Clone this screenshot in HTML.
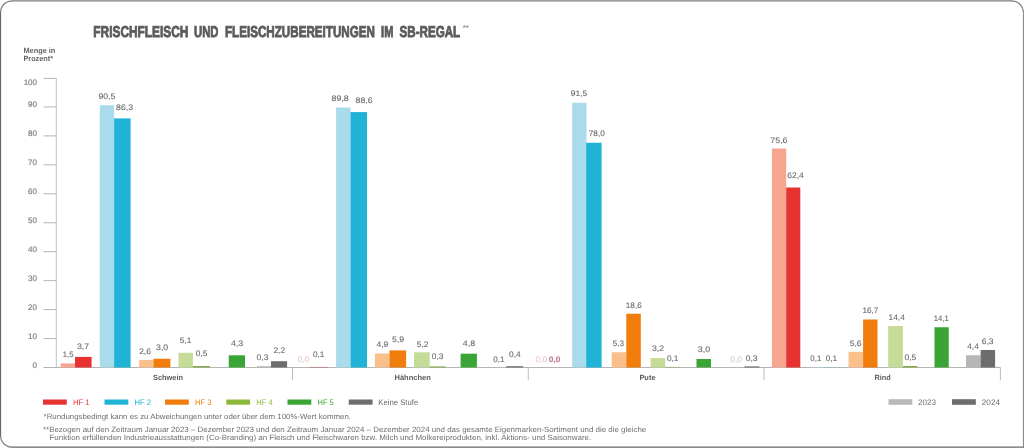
<!DOCTYPE html>
<html lang="de">
<head>
<meta charset="utf-8">
<title>Frischfleisch und Fleischzubereitungen im SB-Regal</title>
<style>
html,body{margin:0;padding:0;background:#fff;}
body{width:1024px;height:448px;overflow:hidden;}
svg{display:block;font-family:"Liberation Sans",sans-serif;text-rendering:geometricPrecision;}
.v{font-size:8px;stroke-width:0.1px;}
.ax{font-size:8px;fill:#7a7a7a;stroke:#7a7a7a;stroke-width:0.15px;}
.cat{font-size:7.6px;font-weight:bold;fill:#5c5c5c;}
.fn{font-size:7.6px;fill:#6e6e6e;}
.lg{font-size:8px;}
</style>
</head>
<body>
<svg width="1024" height="448" viewBox="0 0 1024 448">
<rect x="0" y="0" width="1024" height="448" fill="#ffffff"/>
<g fill="none" stroke="#808080" stroke-width="1.3"><path d="M0.5,12.6 A11.8,11.8 0 0 1 12.3,0.8"/><path d="M1011.6,0.8 A11.8,11.8 0 0 1 1023.4,12.6"/><path d="M12.3,447.2 A11.8,11.8 0 0 1 0.5,435.4"/></g>
<rect x="12" y="0" width="1000" height="1.65" fill="#9c9c9c"/>
<rect x="12" y="446.35" width="1012" height="1.65" fill="#8c8c8c"/>
<rect x="0" y="12.3" width="1.12" height="423.4" fill="#666666"/>
<rect x="1022.92" y="12.3" width="1.08" height="435.7" fill="#8a8888"/>
<text y="36.9" font-size="15.7" font-weight="bold" fill="#5b5b5d" stroke="#5b5b5d" stroke-width="0.85" stroke-linejoin="miter"><tspan x="93.35" textLength="94.95" lengthAdjust="spacingAndGlyphs">FRISCHFLEISCH</tspan> <tspan x="194.10" textLength="24.40" lengthAdjust="spacingAndGlyphs">UND</tspan> <tspan x="225.00" textLength="149.90" lengthAdjust="spacingAndGlyphs">FLEISCHZUBEREITUNGEN</tspan> <tspan x="381.10" textLength="12.30" lengthAdjust="spacingAndGlyphs">IM</tspan> <tspan x="399.50" textLength="60.70" lengthAdjust="spacingAndGlyphs">SB-REGAL</tspan></text>
<text x="462.7" y="30.4" font-size="7" font-weight="bold" fill="#8c8c8c" textLength="6.2" lengthAdjust="spacingAndGlyphs">**</text>
<text x="23.5" y="52.9" font-size="7.6" font-weight="bold" fill="#636363" textLength="31.8" lengthAdjust="spacingAndGlyphs">Menge in</text>
<text x="23.5" y="60.8" font-size="7.6" font-weight="bold" fill="#636363" textLength="29.5" lengthAdjust="spacingAndGlyphs">Prozent*</text>
<g stroke="#b4b4b4" stroke-width="1" fill="none">
<path d="M56.3,78.4 V367.5" stroke="#c0c0c0"/>
<path d="M43.5,338.55 H56.3"/>
<path d="M43.5,309.60 H56.3"/>
<path d="M43.5,280.65 H56.3"/>
<path d="M43.5,251.70 H56.3"/>
<path d="M43.5,222.75 H56.3"/>
<path d="M43.5,193.80 H56.3"/>
<path d="M43.5,164.85 H56.3"/>
<path d="M43.5,135.90 H56.3"/>
<path d="M43.5,106.95 H56.3"/>
<path d="M43.5,78.40 H56.3"/>
<path d="M43.5,367.5 H1000.4"/>
<path d="M292.5,367.5 V380.2" stroke="#a6a6a6" stroke-width="0.75"/>
<path d="M528.25,367.5 V380.2" stroke="#a6a6a6" stroke-width="0.75"/>
<path d="M764.0,367.5 V380.2" stroke="#a6a6a6" stroke-width="0.75"/>
<path d="M1000.4,367.5 V380.2" stroke="#a6a6a6" stroke-width="0.75"/>
</g>
<text class="ax" x="37" y="367.75" text-anchor="end">0</text>
<text class="ax" x="37" y="338.80" text-anchor="end">10</text>
<text class="ax" x="37" y="309.85" text-anchor="end">20</text>
<text class="ax" x="37" y="280.90" text-anchor="end">30</text>
<text class="ax" x="37" y="251.95" text-anchor="end">40</text>
<text class="ax" x="37" y="223.00" text-anchor="end">50</text>
<text class="ax" x="37" y="194.05" text-anchor="end">60</text>
<text class="ax" x="37" y="165.10" text-anchor="end">70</text>
<text class="ax" x="37" y="136.15" text-anchor="end">80</text>
<text class="ax" x="37" y="107.20" text-anchor="end">90</text>
<text class="ax" x="37" y="84.80" text-anchor="end">100</text>
<rect x="60.60" y="363.40" width="14.40" height="4.10" fill="#f5a590"/>
<rect x="75.00" y="356.90" width="16.60" height="10.60" fill="#e63331"/>
<rect x="99.75" y="105.25" width="14.35" height="262.25" fill="#a9dbec"/>
<rect x="114.10" y="118.40" width="16.50" height="249.10" fill="#1fb4d5"/>
<rect x="139.10" y="360.00" width="14.40" height="7.50" fill="#f9c08b"/>
<rect x="153.50" y="358.75" width="16.90" height="8.75" fill="#f07d0c"/>
<rect x="178.50" y="352.75" width="14.40" height="14.75" fill="#c4dc98"/>
<rect x="192.90" y="366.00" width="16.85" height="1.50" fill="#86a94c"/>
<rect x="228.75" y="355.30" width="16.25" height="12.20" fill="#3aa536"/>
<rect x="256.90" y="366.20" width="14.10" height="1.30" fill="#b7b7b7"/>
<rect x="271.00" y="361.20" width="16.10" height="6.30" fill="#6d6d6d"/>
<rect x="309.90" y="366.95" width="18.10" height="0.55" fill="#b56f6b"/>
<rect x="336.10" y="107.50" width="14.40" height="260.00" fill="#a9dbec"/>
<rect x="350.50" y="112.10" width="16.50" height="255.40" fill="#1fb4d5"/>
<rect x="374.90" y="353.50" width="14.60" height="14.00" fill="#f9c08b"/>
<rect x="389.50" y="350.40" width="16.60" height="17.10" fill="#f07d0c"/>
<rect x="414.00" y="352.30" width="15.75" height="15.20" fill="#c4dc98"/>
<rect x="429.75" y="366.40" width="15.85" height="1.10" fill="#86a94c"/>
<rect x="460.60" y="353.70" width="16.30" height="13.80" fill="#3aa536"/>
<rect x="491.00" y="367.00" width="15.25" height="0.50" fill="#b9b9b9"/>
<rect x="506.25" y="366.20" width="16.85" height="1.30" fill="#6d6d6d"/>
<rect x="572.20" y="102.75" width="14.30" height="264.75" fill="#a9dbec"/>
<rect x="586.20" y="142.75" width="15.40" height="224.75" fill="#1fb4d5"/>
<rect x="611.75" y="352.25" width="14.55" height="15.25" fill="#f9c08b"/>
<rect x="626.30" y="313.75" width="14.50" height="53.75" fill="#f07d0c"/>
<rect x="650.60" y="358.10" width="14.65" height="9.40" fill="#c4dc98"/>
<rect x="665.25" y="366.90" width="14.75" height="0.60" fill="#9aae78"/>
<rect x="696.50" y="359.00" width="14.50" height="8.50" fill="#3aa536"/>
<rect x="744.40" y="366.40" width="15.00" height="1.10" fill="#6d6d6d"/>
<rect x="771.90" y="148.50" width="14.30" height="219.00" fill="#f5a590"/>
<rect x="786.20" y="187.50" width="14.10" height="180.00" fill="#e63331"/>
<rect x="809.00" y="367.00" width="15.00" height="0.50" fill="#b4cdd6"/>
<rect x="824.00" y="367.00" width="14.75" height="0.50" fill="#8cc3d2"/>
<rect x="848.50" y="351.80" width="14.60" height="15.70" fill="#f9c08b"/>
<rect x="863.10" y="319.50" width="14.40" height="48.00" fill="#f07d0c"/>
<rect x="888.20" y="326.00" width="14.70" height="41.50" fill="#c4dc98"/>
<rect x="902.90" y="366.00" width="14.35" height="1.50" fill="#86a94c"/>
<rect x="934.50" y="327.25" width="14.25" height="40.25" fill="#3aa536"/>
<rect x="966.00" y="355.25" width="14.60" height="12.25" fill="#b7b7b7"/>
<rect x="980.60" y="350.00" width="14.50" height="17.50" fill="#6d6d6d"/>
<text class="v" x="62.80" y="357.30" fill="#6a6a6a" stroke="#6a6a6a" textLength="10.60" lengthAdjust="spacingAndGlyphs">1,5</text>
<text class="v" x="76.95" y="349.20" fill="#6a6a6a" stroke="#6a6a6a" textLength="12.10" lengthAdjust="spacingAndGlyphs">3,7</text>
<text class="v" x="98.45" y="99.30" fill="#6a6a6a" stroke="#6a6a6a" textLength="16.85" lengthAdjust="spacingAndGlyphs">90,5</text>
<text class="v" x="116.10" y="109.90" fill="#6a6a6a" stroke="#6a6a6a" textLength="17.00" lengthAdjust="spacingAndGlyphs">86,3</text>
<text class="v" x="139.20" y="353.60" fill="#6a6a6a" stroke="#6a6a6a" textLength="11.70" lengthAdjust="spacingAndGlyphs">2,6</text>
<text class="v" x="156.10" y="350.20" fill="#6a6a6a" stroke="#6a6a6a" textLength="12.10" lengthAdjust="spacingAndGlyphs">3,0</text>
<text class="v" x="179.70" y="342.50" fill="#6a6a6a" stroke="#6a6a6a" textLength="11.60" lengthAdjust="spacingAndGlyphs">5,1</text>
<text class="v" x="195.70" y="356.00" fill="#6a6a6a" stroke="#6a6a6a" textLength="11.60" lengthAdjust="spacingAndGlyphs">0,5</text>
<text class="v" x="230.95" y="346.00" fill="#6a6a6a" stroke="#6a6a6a" textLength="12.25" lengthAdjust="spacingAndGlyphs">4,3</text>
<text class="v" x="256.60" y="360.30" fill="#6a6a6a" stroke="#6a6a6a" textLength="11.80" lengthAdjust="spacingAndGlyphs">0,3</text>
<text class="v" x="273.45" y="353.10" fill="#6a6a6a" stroke="#6a6a6a" textLength="11.60" lengthAdjust="spacingAndGlyphs">2,2</text>
<text class="v" x="297.45" y="361.60" fill="#e9c6bf" stroke="#e9c6bf" textLength="11.85" lengthAdjust="spacingAndGlyphs">0,0</text>
<text class="v" x="312.90" y="357.30" fill="#6a6a6a" stroke="#6a6a6a" textLength="11.40" lengthAdjust="spacingAndGlyphs">0,1</text>
<text class="v" x="331.60" y="100.80" fill="#6a6a6a" stroke="#6a6a6a" textLength="17.20" lengthAdjust="spacingAndGlyphs">89,8</text>
<text class="v" x="355.60" y="103.00" fill="#6a6a6a" stroke="#6a6a6a" textLength="16.95" lengthAdjust="spacingAndGlyphs">88,6</text>
<text class="v" x="376.45" y="347.40" fill="#6a6a6a" stroke="#6a6a6a" textLength="11.85" lengthAdjust="spacingAndGlyphs">4,9</text>
<text class="v" x="392.10" y="342.30" fill="#6a6a6a" stroke="#6a6a6a" textLength="12.10" lengthAdjust="spacingAndGlyphs">5,9</text>
<text class="v" x="416.80" y="346.50" fill="#6a6a6a" stroke="#6a6a6a" textLength="11.60" lengthAdjust="spacingAndGlyphs">5,2</text>
<text class="v" x="431.80" y="359.20" fill="#6a6a6a" stroke="#6a6a6a" textLength="11.60" lengthAdjust="spacingAndGlyphs">0,3</text>
<text class="v" x="462.80" y="346.20" fill="#6a6a6a" stroke="#6a6a6a" textLength="12.25" lengthAdjust="spacingAndGlyphs">4,8</text>
<text class="v" x="493.20" y="361.60" fill="#6a6a6a" stroke="#6a6a6a" textLength="11.20" lengthAdjust="spacingAndGlyphs">0,1</text>
<text class="v" x="509.10" y="356.60" fill="#6a6a6a" stroke="#6a6a6a" textLength="11.60" lengthAdjust="spacingAndGlyphs">0,4</text>
<text class="v" x="535.45" y="361.70" fill="#e9c6bf" stroke="#e9c6bf" textLength="11.60" lengthAdjust="spacingAndGlyphs">0,0</text>
<text class="v" x="548.80" y="361.70" fill="#bd7d8c" stroke="#bd7d8c" font-weight="bold" textLength="11.60" lengthAdjust="spacingAndGlyphs">0,0</text>
<text class="v" x="570.80" y="96.10" fill="#6a6a6a" stroke="#6a6a6a" textLength="16.50" lengthAdjust="spacingAndGlyphs">91,5</text>
<text class="v" x="588.70" y="136.20" fill="#6a6a6a" stroke="#6a6a6a" textLength="16.10" lengthAdjust="spacingAndGlyphs">78,0</text>
<text class="v" x="612.70" y="345.70" fill="#6a6a6a" stroke="#6a6a6a" textLength="11.20" lengthAdjust="spacingAndGlyphs">5,3</text>
<text class="v" x="625.70" y="308.00" fill="#6a6a6a" stroke="#6a6a6a" textLength="16.10" lengthAdjust="spacingAndGlyphs">18,6</text>
<text class="v" x="651.95" y="350.60" fill="#6a6a6a" stroke="#6a6a6a" textLength="12.10" lengthAdjust="spacingAndGlyphs">3,2</text>
<text class="v" x="666.95" y="360.70" fill="#6a6a6a" stroke="#6a6a6a" textLength="11.45" lengthAdjust="spacingAndGlyphs">0,1</text>
<text class="v" x="697.80" y="352.40" fill="#6a6a6a" stroke="#6a6a6a" textLength="12.25" lengthAdjust="spacingAndGlyphs">3,0</text>
<text class="v" x="730.30" y="361.50" fill="#cfcfcf" stroke="#cfcfcf" textLength="11.70" lengthAdjust="spacingAndGlyphs">0,0</text>
<text class="v" x="745.70" y="360.70" fill="#6a6a6a" stroke="#6a6a6a" textLength="11.85" lengthAdjust="spacingAndGlyphs">0,3</text>
<text class="v" x="770.30" y="142.60" fill="#6a6a6a" stroke="#6a6a6a" textLength="17.25" lengthAdjust="spacingAndGlyphs">75,6</text>
<text class="v" x="787.20" y="177.60" fill="#6a6a6a" stroke="#6a6a6a" textLength="16.60" lengthAdjust="spacingAndGlyphs">62,4</text>
<text class="v" x="810.30" y="360.70" fill="#6a6a6a" stroke="#6a6a6a" textLength="11.00" lengthAdjust="spacingAndGlyphs">0,1</text>
<text class="v" x="825.70" y="360.70" fill="#6a6a6a" stroke="#6a6a6a" textLength="11.50" lengthAdjust="spacingAndGlyphs">0,1</text>
<text class="v" x="849.70" y="345.80" fill="#6a6a6a" stroke="#6a6a6a" textLength="11.85" lengthAdjust="spacingAndGlyphs">5,6</text>
<text class="v" x="862.45" y="313.20" fill="#6a6a6a" stroke="#6a6a6a" textLength="15.95" lengthAdjust="spacingAndGlyphs">16,7</text>
<text class="v" x="888.45" y="319.85" fill="#6a6a6a" stroke="#6a6a6a" textLength="16.45" lengthAdjust="spacingAndGlyphs">14,4</text>
<text class="v" x="904.45" y="360.10" fill="#6a6a6a" stroke="#6a6a6a" textLength="11.85" lengthAdjust="spacingAndGlyphs">0,5</text>
<text class="v" x="933.80" y="321.10" fill="#6a6a6a" stroke="#6a6a6a" textLength="15.00" lengthAdjust="spacingAndGlyphs">14,1</text>
<text class="v" x="967.20" y="349.00" fill="#6a6a6a" stroke="#6a6a6a" textLength="11.60" lengthAdjust="spacingAndGlyphs">4,4</text>
<text class="v" x="981.70" y="343.60" fill="#6a6a6a" stroke="#6a6a6a" textLength="11.85" lengthAdjust="spacingAndGlyphs">6,3</text>
<text class="cat" x="153.00" y="380.2" textLength="30.00" lengthAdjust="spacingAndGlyphs">Schwein</text>
<text class="cat" x="394.50" y="380.2" textLength="36.40" lengthAdjust="spacingAndGlyphs">Hähnchen</text>
<text class="cat" x="639.40" y="380.2" textLength="16.20" lengthAdjust="spacingAndGlyphs">Pute</text>
<text class="cat" x="874.40" y="380.2" textLength="16.20" lengthAdjust="spacingAndGlyphs">Rind</text>
<rect x="43.00" y="399.5" width="23.8" height="5.2" fill="#e63331"/>
<text class="lg" x="73.00" y="405" fill="#e63331" textLength="16.50" lengthAdjust="spacingAndGlyphs">HF 1</text>
<rect x="104.50" y="399.5" width="23.8" height="5.2" fill="#1fb4d5"/>
<text class="lg" x="134.50" y="405" fill="#1fb4d5" textLength="16.50" lengthAdjust="spacingAndGlyphs">HF 2</text>
<rect x="165.00" y="399.5" width="23.8" height="5.2" fill="#f07d0c"/>
<text class="lg" x="195.00" y="405" fill="#f07d0c" textLength="16.50" lengthAdjust="spacingAndGlyphs">HF 3</text>
<rect x="226.25" y="399.5" width="23.8" height="5.2" fill="#8bb93b"/>
<text class="lg" x="256.25" y="405" fill="#8bb93b" textLength="16.50" lengthAdjust="spacingAndGlyphs">HF 4</text>
<rect x="287.50" y="399.5" width="23.8" height="5.2" fill="#3aa536"/>
<text class="lg" x="317.50" y="405" fill="#3aa536" textLength="16.25" lengthAdjust="spacingAndGlyphs">HF 5</text>
<rect x="348.75" y="399.5" width="23.8" height="5.2" fill="#6d6d6d"/>
<text class="lg" x="378.25" y="405" fill="#6b6b6b" textLength="40.00" lengthAdjust="spacingAndGlyphs">Keine Stufe</text>
<rect x="888.50" y="399.2" width="23.8" height="5.6" fill="#b9b9b9"/>
<text class="lg" x="918.00" y="405" fill="#6b6b6b" textLength="18.00" lengthAdjust="spacingAndGlyphs">2023</text>
<rect x="952.00" y="399.2" width="23.8" height="5.6" fill="#6d6d6d"/>
<text class="lg" x="981.75" y="405" fill="#6b6b6b" textLength="18.25" lengthAdjust="spacingAndGlyphs">2024</text>
<text class="fn" x="43.6" y="418.8" textLength="307.4" lengthAdjust="spacingAndGlyphs">*Rundungsbedingt kann es zu Abweichungen unter oder über dem 100%-Wert kommen.</text>
<text class="fn" x="43.0" y="432.3" textLength="603.2" lengthAdjust="spacingAndGlyphs">**Bezogen auf den Zeitraum Januar 2023 – Dezember 2023 und den Zeitraum Januar 2024 – Dezember 2024 und das gesamte Eigenmarken-Sortiment und die die gleiche</text>
<text class="fn" x="49.5" y="440.4" textLength="541.7" lengthAdjust="spacingAndGlyphs">Funktion erfüllenden Industrieausstattungen (Co-Branding) an Fleisch und Fleischwaren bzw. Milch und Molkereiprodukten, inkl. Aktions- und Saisonware.</text>
</svg>
</body>
</html>
